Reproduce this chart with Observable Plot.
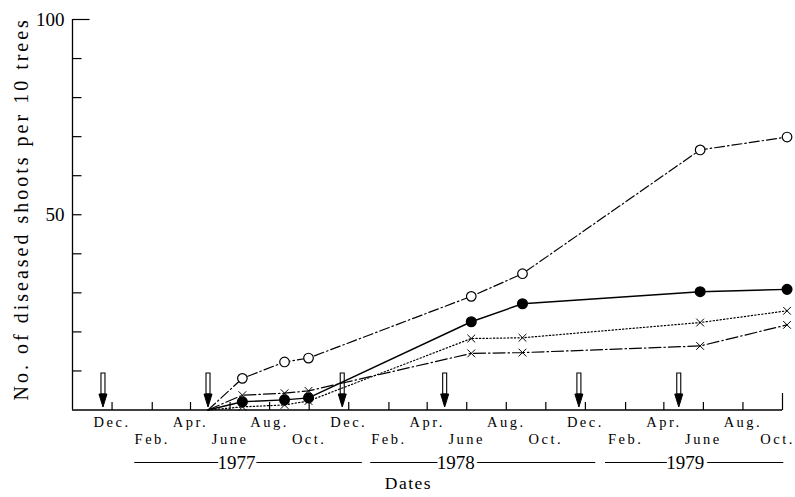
<!DOCTYPE html>
<html>
<head>
<meta charset="utf-8">
<script src="https://cdn.jsdelivr.net/npm/d3@7"></script>
<script src="https://cdn.jsdelivr.net/npm/@observablehq/plot@0.6"></script>
<style>
  body { margin: 0; background: #fff; }
  #chart svg { display: block; }
</style>
</head>
<body>
<div id="chart"></div>
<script>
// Survey dates (the first is the start of the survey, all series at zero)
const surveyDates = ["1977-04-28", "1977-06-20", "1977-08-24", "1977-09-30", "1978-06-08", "1978-08-26", "1979-05-27", "1979-10-08"];
// Number of diseased shoots per 10 trees, one list per treatment
const openCircles   = [0, 8.1, 12.3, 13.3, 29.1, 34.9, 66.6, 69.9];
const filledCircles = [0, 2.1, 2.6, 3.1, 22.6, 27.2, 30.3, 30.9];
const dottedCrosses = [0, 0.8, 1.3, 2.3, 18.3, 18.5, 22.4, 25.4];
const dashedCrosses = [0, 3.8, 4.3, 4.9, 14.5, 14.7, 16.4, 21.8];
// Treatment dates, shown as arrows on the time axis
const sprayDates = ["1976-11-17", "1977-04-28", "1977-11-21", "1978-04-28", "1978-11-21", "1979-04-24"];
// Month tick labels, in two staggered rows
const upperRowTicks = ["1976-12-01", "1977-04-01", "1977-08-01", "1977-12-01", "1978-04-01", "1978-08-01", "1978-12-01", "1979-04-01", "1979-08-01"];
const lowerRowTicks = ["1977-02-01", "1977-06-01", "1977-10-01", "1978-02-01", "1978-06-01", "1978-10-01", "1979-02-01", "1979-06-01", "1979-10-01"];
const monthLabels = ["Jan.", "Feb.", "Mar.", "Apr.", "May", "June", "July", "Aug.", "Sep.", "Oct.", "Nov.", "Dec."];
// Year brackets under the month labels
const years = ["1977", "1978", "1979"];
const yearStarts = ["1977-01-05", "1978-01-04", "1979-01-01"];
const yearEnds = ["1977-12-22", "1978-12-17", "1979-10-03"];
const yearLabelDates = ["1977-06-11", "1978-05-15", "1979-05-04"];
const yMajorTicks = [50, 100];
const yMinorTicks = [10, 20, 30, 40, 50, 60, 70, 80, 90];
const yLabel = "No. of diseased shoots per 10 trees";
const xLabel = "Dates";

const parse = d3.utcParse("%Y-%m-%d");
const xStart = parse("1976-10-01");
const xEnd = parse("1979-10-01");
const rows = (values) => surveyDates.map((d, i) => ({date: parse(d), value: values[i]}));

// Small custom symbols drawn around a point on the axis
const tickRight = {draw(c) { c.moveTo(0, 0); c.lineTo(9, 0); }};
const tickRightLong = {draw(c) { c.moveTo(0, 0); c.lineTo(17, 0); }};
const tickUp = {draw(c) { c.moveTo(0, 0); c.lineTo(0, -8); }};
const tickUpLong = {draw(c) { c.moveTo(0, 0); c.lineTo(0, -17); }};
const arrowShaft = {draw(c) { c.moveTo(-2, -37); c.lineTo(2, -37); c.lineTo(2, -16); c.lineTo(-2, -16); c.closePath(); }};
const arrowHead = {draw(c) { c.moveTo(-4, -16); c.lineTo(4, -16); c.lineTo(0, -3); c.closePath(); }};

const allTicks = upperRowTicks.concat(lowerRowTicks).map(parse).sort((a, b) => a - b);
const lastTick = allTicks[allTicks.length - 1];

const dashDot = "10,3,1.5,3";
const longDashDot = "12,3,1.5,3";

const chart = Plot.plot({
  width: 795,
  height: 497,
  marginLeft: 72,
  marginRight: 13,
  marginTop: 19,
  marginBottom: 87.5,
  style: {fontFamily: "'Liberation Serif', 'DejaVu Serif', serif", fontSize: "13px", background: "white", color: "black"},
  x: {type: "utc", domain: [xStart, xEnd], axis: null},
  y: {domain: [0, 100], axis: null},
  marks: [
    // axes frame
    Plot.ruleY([0], {stroke: "black", strokeWidth: 1.3}),
    Plot.ruleX([xStart], {y1: 0, y2: 100, stroke: "black", strokeWidth: 1.3}),
    // inward ticks
    Plot.dot(yMinorTicks, {y: d => d, frameAnchor: "left", symbol: tickRight, stroke: "black", strokeWidth: 1.2}),
    Plot.dot([100], {y: d => d, frameAnchor: "left", symbol: tickRightLong, stroke: "black", strokeWidth: 1.2}),
    Plot.dot(allTicks.filter(d => d < lastTick), {x: d => d, frameAnchor: "bottom", symbol: tickUp, stroke: "black", strokeWidth: 1.2}),
    Plot.dot([lastTick], {x: d => d, frameAnchor: "bottom", symbol: tickUpLong, stroke: "black", strokeWidth: 1.2}),
    // y tick labels
    Plot.axisY({ticks: yMajorTicks, tickSize: 0, tickPadding: 8, fontSize: 19, label: null}),
    // month labels
    Plot.axisX({ticks: upperRowTicks.map(parse), tickSize: 0, tickPadding: 7, fontSize: 14.5, label: null, tickFormat: d => monthLabels[d.getUTCMonth()]}),
    Plot.axisX({ticks: lowerRowTicks.map(parse), tickSize: 0, tickPadding: 24, fontSize: 14.5, label: null, tickFormat: d => monthLabels[d.getUTCMonth()]}),
    // year brackets, the label masking the line behind it
    Plot.ruleY(years, {y: () => 0, x1: (d, i) => parse(yearStarts[i]), x2: (d, i) => parse(yearEnds[i]), dy: 52.5, stroke: "black", strokeWidth: 1}),
    Plot.text(years, {x: (d, i) => parse(yearLabelDates[i]), y: () => 0, text: d => d, dy: 52.5, fontSize: 19, fill: "black", stroke: "white", strokeWidth: 7, paintOrder: "stroke"}),
    // axis titles
    Plot.text([yLabel], {frameAnchor: "left", text: d => d, rotate: -90, textAnchor: "middle", dx: -51, dy: -6, fontSize: 20, fill: "black"}),
    Plot.text([xLabel], {frameAnchor: "bottom", text: d => d, dx: -19, dy: 78.5, fontSize: 17.5, fill: "black"}),
    // treatment arrows
    Plot.dot(sprayDates, {x: d => parse(d), frameAnchor: "bottom", symbol: arrowShaft, fill: "white", stroke: "black", strokeWidth: 1.1}),
    Plot.dot(sprayDates, {x: d => parse(d), frameAnchor: "bottom", symbol: arrowHead, fill: "black", stroke: "black", strokeWidth: 1}),
    // series lines
    Plot.line(rows(openCircles), {x: "date", y: "value", stroke: "black", strokeWidth: 1.2, strokeDasharray: dashDot}),
    Plot.line(rows(filledCircles), {x: "date", y: "value", stroke: "black", strokeWidth: 1.4}),
    Plot.line(rows(dottedCrosses), {x: "date", y: "value", stroke: "black", strokeWidth: 1.2, strokeDasharray: "1.3,2.2"}),
    Plot.line(rows(dashedCrosses), {x: "date", y: "value", stroke: "black", strokeWidth: 1.2, strokeDasharray: longDashDot}),
    // series markers
    Plot.dot(rows(openCircles).slice(1), {x: "date", y: "value", r: 4.8, fill: "white", stroke: "black", strokeWidth: 1.2}),
    Plot.dot(rows(filledCircles).slice(1), {x: "date", y: "value", r: 4.8, fill: "black", stroke: "black"}),
    Plot.dot(rows(dottedCrosses).slice(1), {x: "date", y: "value", r: 3.6, symbol: "times", stroke: "black", strokeWidth: 1}),
    Plot.dot(rows(dashedCrosses).slice(1), {x: "date", y: "value", r: 3.6, symbol: "times", stroke: "black", strokeWidth: 1})
  ]
});

// letter spacing for the typewriter-like labels
const svg = d3.select(chart);
const monthTexts = [];
svg.selectAll("text").each(function() {
  const t = this.textContent;
  if (t === yLabel) d3.select(this).style("letter-spacing", "3px");
  else if (t === xLabel) d3.select(this).style("letter-spacing", "1.5px");
  else if (monthLabels.includes(t)) { d3.select(this).style("letter-spacing", "2.5px"); monthTexts.push(this); }
});
// keep the right-most month label inside the page
const rightMost = monthTexts[monthTexts.length - 1];
if (rightMost) d3.select(rightMost).attr("dx", -5);
document.getElementById("chart").append(chart);
</script>
</body>
</html>
